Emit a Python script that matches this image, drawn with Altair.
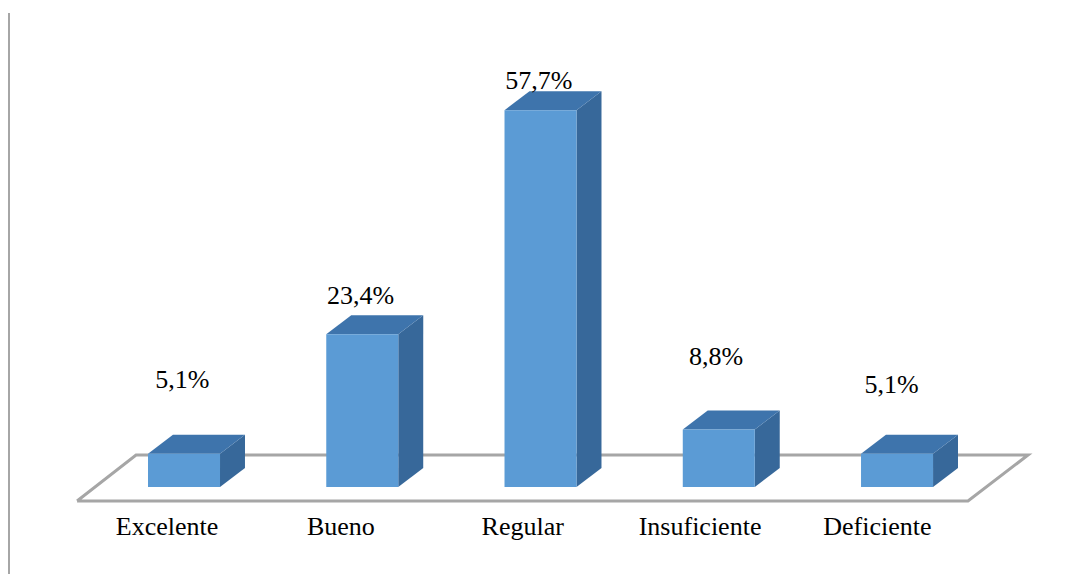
import altair as alt
import pandas as pd

categories = ["Excelente", "Bueno", "Regular", "Insuficiente", "Deficiente"]
values = [5.1, 23.4, 57.7, 8.8, 5.1]
value_labels = ["5,1%", "23,4%", "57,7%", "8,8%", "5,1%"]

# layout, in data units (x: category index, y: percent)
HALF = 0.202
DX = 0.14
DY = 2.9
LIFT = [11.3, 5.85, 4.5, 11.1, 10.5]
LABEL_SHIFT = [-0.01, -0.01, -0.01, -0.015, -0.03]
CAT_SHIFT = [-0.095, -0.12, -0.10, -0.105, -0.11]
CAT_Y = -6.1
FLOOR_X = [-0.6, 4.398, 4.735, -0.269, -0.6]
FLOOR_Y = [-2.14, -2.14, 4.9, 4.9, -2.14]

front, side, top, vlab, clab = [], [], [], [], []
for i, (c, v, t) in enumerate(zip(categories, values, value_labels)):
    l, r = i - HALF, i + HALF
    front.append({"c": c, "x": l, "x2": r, "y": 0, "y2": v})
    side += [
        {"c": c, "x": r, "y": 0, "y2": v},
        {"c": c, "x": r + DX, "y": DY, "y2": v + DY},
    ]
    top += [
        {"c": c, "x": l, "y": v, "y2": v},
        {"c": c, "x": l + DX, "y": v + DY, "y2": v},
        {"c": c, "x": r, "y": v + DY, "y2": v},
        {"c": c, "x": r + DX, "y": v + DY, "y2": v + DY},
    ]
    vlab.append({"t": t, "x": i + LABEL_SHIFT[i], "y": v + LIFT[i]})
    clab.append({"t": c, "x": i + CAT_SHIFT[i], "y": CAT_Y})

floor = pd.DataFrame({"x": FLOOR_X, "y": FLOOR_Y, "o": range(len(FLOOR_X))})

xs = alt.Scale(domain=[-0.9874, 4.903], nice=False, zero=False)
ys = alt.Scale(domain=[-13.32, 73.35], nice=False, zero=False)
X = alt.X("x:Q", scale=xs, axis=None)
Y = alt.Y("y:Q", scale=ys, axis=None)

border = alt.Chart(pd.DataFrame({"a": [0]})).mark_rule(
    color="#a6a6a6", strokeWidth=2
).encode(x=alt.value(1), y=alt.value(5), y2=alt.value(566))

floor_line = alt.Chart(floor).mark_line(
    color="#a6a6a6", strokeWidth=3, strokeJoin="miter"
).encode(x=X, y=Y, order="o:Q")

front_m = alt.Chart(pd.DataFrame(front)).mark_rect(color="#5b9bd5").encode(
    x=X, x2="x2:Q", y=Y, y2="y2:Q"
)
side_m = alt.Chart(pd.DataFrame(side)).mark_area(color="#37689a").encode(
    x=X, y=Y, y2="y2:Q", detail="c:N"
)
top_m = alt.Chart(pd.DataFrame(top)).mark_area(color="#3e74ac").encode(
    x=X, y=Y, y2="y2:Q", detail="c:N"
)

font = "Liberation Serif"
vlab_m = alt.Chart(pd.DataFrame(vlab)).mark_text(
    font=font, fontSize=26, color="#000000", baseline="middle", align="center"
).encode(x=X, y=Y, text="t:N")
clab_m = alt.Chart(pd.DataFrame(clab)).mark_text(
    font=font, fontSize=26, color="#000000", baseline="middle", align="center"
).encode(x=X, y=Y, text="t:N")

chart = (
    alt.layer(border, floor_line, side_m, top_m, front_m, vlab_m, clab_m)
    .properties(width=1050, height=566, padding=0,
                autosize=alt.AutoSizeParams(type="none"), background="white")
    .configure_view(stroke=None)
)
chart.save("out.html", embed_options={"renderer": "svg", "actions": False})
